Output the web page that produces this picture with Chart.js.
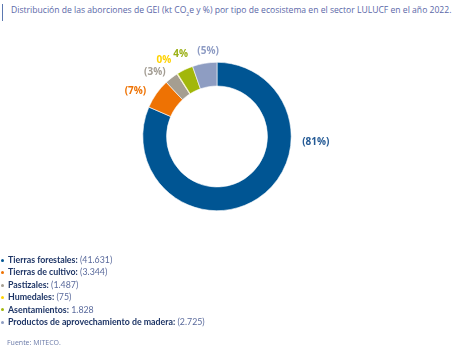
<!DOCTYPE html>
<html><head><meta charset="utf-8">
<script src="https://cdn.jsdelivr.net/npm/chart.js@4.4.1/dist/chart.umd.min.js"></script>
<style>
html,body{margin:0;padding:0;background:#fff;}
body{width:455px;height:353px;position:relative;overflow:hidden;font-family:"Open Sans",sans-serif;}
#wrap{position:absolute;left:0;top:0;width:455px;height:353px;}
#title{position:absolute;left:2px;top:4px;border-left:1.5px solid #5b78b0;padding-left:8px;font-size:8.6px;color:#5a67a8;line-height:13px;white-space:nowrap;}
#legend{position:absolute;left:1px;top:254px;font-family:Lato,sans-serif;font-size:8.8px;line-height:12.4px;white-space:nowrap;}
#legend .it{display:flex;align-items:center;}
#legend .dot{display:inline-block;width:3px;height:3px;border-radius:50%;margin-right:4px;}
#legend b{color:#1e3566;font-weight:700;}
#legend span.v{color:#5a6a9c;}
#src{position:absolute;left:7px;top:338px;font-size:7px;color:#6a7aa8;}
</style></head>
<body>
<div id="title">Distribución de las aborciones de GEI (kt CO<sub style="font-size:5px">2</sub>e y %) por tipo de ecosistema en el sector LULUCF en el año 2022.</div>
<div id="wrap"><canvas id="c" width="455" height="353"></canvas></div>
<div id="legend"></div>
<div id="src">Fuente: MITECO.</div>
<script>
const categories = ["Tierras forestales", "Tierras de cultivo", "Pastizales", "Humedales", "Asentamientos", "Productos de aprovechamiento de madera"];
const values = [41631, 3344, 1487, 75, 1828, 2725];
const valueLabels = ["(41.631)", "(3.344)", "(1.487)", "(75)", "1.828", "(2.725)"];
const pctLabels = ["(81%)", "(7%)", "(3%)", "0%", "4%", "(5%)"];

const colors = ["#005593", "#ee7203", "#a59e91", "#ffd200", "#a2b70a", "#8e9dc2"];
const labelColors = ["#245a95", "#ee7203", "#a39d93", "#ffd200", "#9bb016", "#8e9cc4"];
// label placement relative to donut centre, in units of outer radius
const labelOffsets = [[1.332, 0.07], [-1.10, -0.615], [-0.838, -0.868], [-0.715, -1.034], [-0.489, -1.115], [-0.12, -1.146]];

const labelPlugin = {
  id: 'pctLabels',
  afterDatasetsDraw(chart) {
    const meta = chart.getDatasetMeta(0);
    const a0 = meta.data[0];
    const cx = a0.x, cy = a0.y, r = a0.outerRadius;
    const ctx = chart.ctx;
    ctx.save();
    ctx.font = 'bold 10px "Open Sans", sans-serif';
    ctx.textAlign = 'center';
    ctx.textBaseline = 'middle';
    pctLabels.forEach((t, i) => {
      ctx.fillStyle = labelColors[i];
      ctx.fillText(t, cx + labelOffsets[i][0] * r, cy + labelOffsets[i][1] * r);
    });
    ctx.restore();
  }
};

new Chart(document.getElementById('c'), {
  type: 'doughnut',
  data: {
    labels: categories,
    datasets: [{
      data: values,
      backgroundColor: colors,
      borderColor: '#ffffff',
      borderWidth: 0.6,
      hoverOffset: 0
    }]
  },
  options: {
    responsive: false,
    animation: false,
    cutout: '68%',
    layout: { padding: { left: 142, right: 163, top: 62, bottom: 142 } },
    plugins: { legend: { display: false }, tooltip: { enabled: false }, title: { display: false } }
  },
  plugins: [labelPlugin]
});

const lg = document.getElementById('legend');
categories.forEach((c, i) => {
  const d = document.createElement('div');
  d.className = 'it';
  d.innerHTML = '<span class="dot" style="background:' + colors[i] + '"></span><b>' + c + ':</b>&nbsp;<span class="v">' + valueLabels[i] + '</span>';
  lg.appendChild(d);
});
</script>
</body></html>
